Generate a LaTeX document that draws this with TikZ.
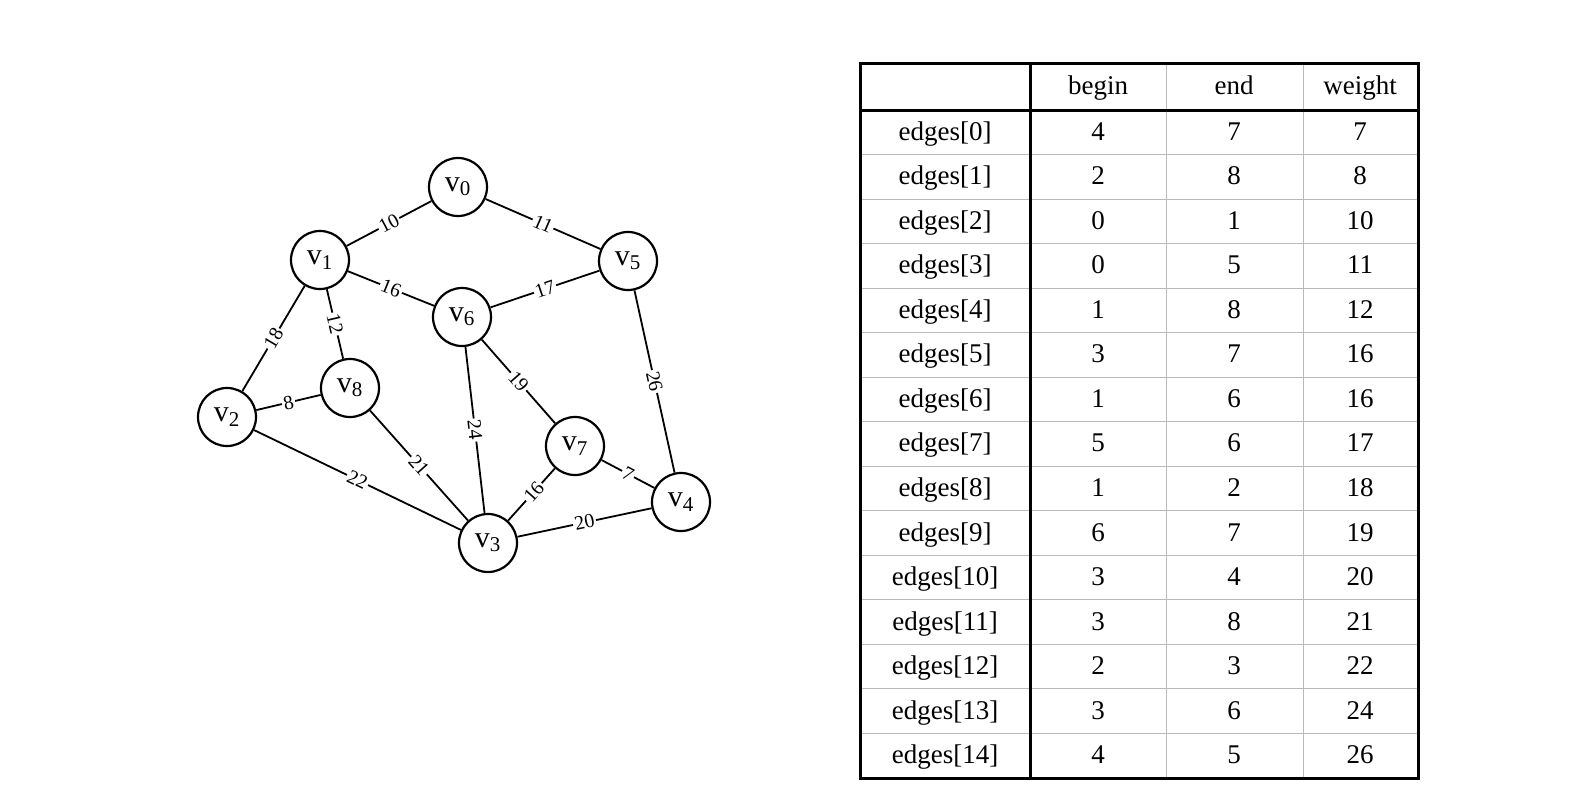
\documentclass[tikz,border=0pt]{standalone}
\usepackage{fontspec}
\setmainfont{Liberation Serif}
\begin{document}
\begin{tikzpicture}[x=0.5pt,y=-0.5pt,
  vert/.style={circle,draw,line width=1.1pt,minimum size=29pt,inner sep=0pt,fill=white,font=\fontsize{15}{15}\selectfont},
  edgeline/.style={line width=0.9pt},
  wlab/.style={midway,sloped,fill=white,inner sep=0.8pt,font=\fontsize{10}{10}\selectfont},
  cell/.style={font=\fontsize{13.5}{14}\selectfont,inner sep=0pt,text height=9.5pt,text depth=3pt},
  thinrule/.style={line width=0.5pt,draw=gray!55},
  boldrule/.style={line width=1.5pt,draw=black}
]
\useasboundingbox (0,0) rectangle (1574,798);
% vertices
\node[vert] (v0) at (458,187) {v\textsubscript{0}};
\node[vert] (v1) at (320,260) {v\textsubscript{1}};
\node[vert] (v5) at (628,261) {v\textsubscript{5}};
\node[vert] (v6) at (462,317) {v\textsubscript{6}};
\node[vert] (v8) at (350,388) {v\textsubscript{8}};
\node[vert] (v2) at (227,417) {v\textsubscript{2}};
\node[vert] (v7) at (575,446) {v\textsubscript{7}};
\node[vert] (v4) at (681,502) {v\textsubscript{4}};
\node[vert] (v3) at (488,543) {v\textsubscript{3}};
% edges
\draw[edgeline] (v1) -- node[wlab] (w10) {10} (v0);
\draw[edgeline] (v0) -- node[wlab] (w11) {11} (v5);
\draw[edgeline] (v1) -- node[wlab] (w16a) {16} (v6);
\draw[edgeline] (v6) -- node[wlab] (w17) {17} (v5);
\draw[edgeline] (v2) -- node[wlab] (w18) {18} (v1);
\draw[edgeline] (v1) -- node[wlab] (w12) {12} (v8);
\draw[edgeline] (v2) -- node[wlab] (w8) {8} (v8);
\draw[edgeline] (v6) -- node[wlab] (w24) {24} (v3);
\draw[edgeline] (v6) -- node[wlab] (w19) {19} (v7);
\draw[edgeline] (v5) -- node[wlab] (w26) {26} (v4);
\draw[edgeline] (v8) -- node[wlab] (w21) {21} (v3);
\draw[edgeline] (v2) -- node[wlab] (w22) {22} (v3);
\draw[edgeline] (v3) -- node[wlab,pos=0.55] (w16b) {16} (v7);
\draw[edgeline] (v7) -- node[wlab] (w7) {7} (v4);
\draw[edgeline] (v3) -- node[wlab] (w20) {20} (v4);
% table rules
\foreach \k in {1,...,14} {
  \pgfmathsetmacro\yy{110+44.53*\k}
  \draw[thinrule] (860,\yy) -- (1418,\yy);
}
\draw[thinrule] (1166,63) -- (1166,778);
\draw[thinrule] (1303,63) -- (1303,778);
\draw[boldrule] (860,63) rectangle (1418,778);
\draw[boldrule] (860,110) -- (1418,110);
\draw[boldrule] (1030,63) -- (1030,778);
% header
\node[cell] (hb) at (1098,87.5) {begin};
\node[cell] (he) at (1234,87.5) {end};
\node[cell] (hw) at (1360,87.5) {weight};
% rows
\foreach \b/\e/\w [count=\i from 0] in {4/7/7,2/8/8,0/1/10,0/5/11,1/8/12,3/7/16,1/6/16,5/6/17,1/2/18,6/7/19,3/4/20,3/8/21,2/3/22,3/6/24,4/5/26} {
  \pgfmathsetmacro\yy{111.5+44.53*(\i+0.5)}
  \node[cell] (r\i-name) at (945,\yy) {edges[\i]};
  \node[cell] (r\i-b) at (1098,\yy) {\b};
  \node[cell] (r\i-e) at (1234,\yy) {\e};
  \node[cell] (r\i-w) at (1360,\yy) {\w};
}
\end{tikzpicture}
\end{document}
